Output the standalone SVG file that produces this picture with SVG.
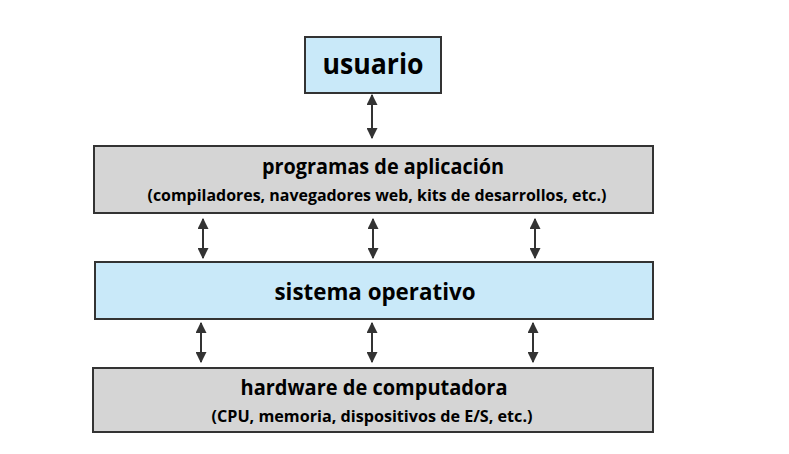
<svg xmlns="http://www.w3.org/2000/svg" width="789" height="454" viewBox="0 0 789 454">
<style>
.box{stroke:#333;stroke-width:2}
.blue{fill:#c9e9f9}
.gray{fill:#d5d5d5}
text{font-family:"Open Sans","Liberation Sans",sans-serif;font-weight:bold;fill:#000;text-anchor:middle}
.t1{font-size:28px}
.t2{font-size:20.5px}
.t3{font-size:16px}
.t4{font-size:23.5px}
.c{stroke:#333;stroke-width:2;fill:none;marker-start:url(#a);marker-end:url(#a)}
</style>
<defs>
<marker id="a" viewBox="0 0 10 10" refX="9" refY="5" markerWidth="5.5" markerHeight="5.5" orient="auto-start-reverse" markerUnits="strokeWidth">
<path d="M0,0 L10,5 L0,10 z" fill="#333"/>
</marker>
</defs>
<g id="connectors">
<line class="c" x1="372" y1="95" x2="372" y2="138"/>
<line class="c" x1="203" y1="219" x2="203" y2="258"/>
<line class="c" x1="373" y1="219" x2="373" y2="258"/>
<line class="c" x1="535" y1="219" x2="535" y2="258"/>
<line class="c" x1="201" y1="323" x2="201" y2="362"/>
<line class="c" x1="372" y1="323" x2="372" y2="362"/>
<line class="c" x1="533" y1="323" x2="533" y2="362"/>
</g>
<g id="usuario">
<rect class="box blue" x="305" y="37" width="136" height="56"/>
<text class="t1" x="373" y="74" textLength="101" lengthAdjust="spacingAndGlyphs">usuario</text>
</g>
<g id="programas">
<rect class="box gray" x="94" y="146" width="559" height="67"/>
<text class="t2" x="383" y="174" textLength="242" lengthAdjust="spacingAndGlyphs">programas de aplicación</text>
<text class="t3" x="377" y="201" textLength="459" lengthAdjust="spacingAndGlyphs">(compiladores, navegadores web, kits de desarrollos, etc.)</text>
</g>
<g id="sistema">
<rect class="box blue" x="95" y="262" width="558" height="57"/>
<text class="t4" x="375" y="300" textLength="201" lengthAdjust="spacingAndGlyphs">sistema operativo</text>
</g>
<g id="hardware">
<rect class="box gray" x="93" y="368" width="560" height="64"/>
<text class="t2" x="374" y="395" textLength="267" lengthAdjust="spacingAndGlyphs">hardware de computadora</text>
<text class="t3" x="372" y="422" textLength="321" lengthAdjust="spacingAndGlyphs">(CPU, memoria, dispositivos de E/S, etc.)</text>
</g>
</svg>
